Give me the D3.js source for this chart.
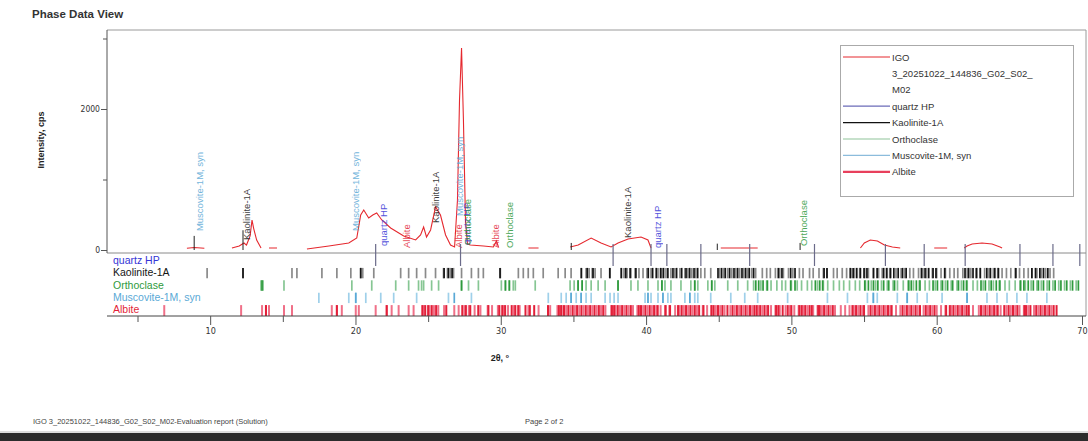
<!DOCTYPE html>
<html><head><meta charset="utf-8">
<script src="https://cdn.jsdelivr.net/npm/d3@7"></script>
<style>
body{margin:0;background:#fff;}
svg{display:block;font-family:"Liberation Sans",Arial,sans-serif;}
</style></head><body>
<svg id="chart" width="1088" height="441"></svg>
<script>
// Measured pattern: [2θ, intensity cps]; null breaks the trace into segments
const pattern = [
  [8.4,25],[8.9,35],[9.6,25],null,
  [11.5,28],[12.0,57],[12.33,99],[12.5,70],[12.75,200],[12.88,425],[13.0,300],[13.2,140],[13.5,28],null,
  [14.05,28],[14.6,28],null,
  [16.66,14],[18.17,57],[19.54,99],[20.09,170],[20.36,496],[20.57,567],[20.91,454],[21.19,496],[21.46,525],
  [21.81,426],[22.42,312],[23.32,199],[24.14,142],[24.48,213],[24.69,326],[24.89,184],[25.17,284],[25.51,610],
  [25.85,496],[26.2,213],[26.54,71],[26.82,43],[27.02,709],[27.16,2128],[27.3,2865],[27.43,1844],[27.57,426],
  [27.71,85],[27.91,71],[28.81,57],[29.49,43],[29.7,128],[29.84,43],null,
  [31.9,28],[32.6,28],null,
  [34.78,43],[35.33,71],[36.22,170],[36.9,99],[37.59,43],[38.07,99],[38.76,156],[39.65,184],[40.13,142],[40.34,28],null,
  [45.14,28],[47.68,28],null,
  [54.75,28],[55.02,99],[55.43,142],[55.92,128],[56.4,71],[56.95,43],[57.49,28],null,
  [59.83,28],[60.72,28],null,
  [61.89,28],[62.09,57],[62.44,85],[63.12,99],[63.81,85],[64.36,43],[64.5,28]
];

const phaseNames = ["quartz HP", "Kaolinite-1A", "Orthoclase", "Muscovite-1M, syn", "Albite"];
const phaseColors = ["#3535d6", "#151515", "#2e9a3c", "#5aa9d6", "#e31f38"];
const phaseWeakColors = ["#7777aa", "#8a8a8a", "#86c693", "#9fd0ea", "#f07088"];
const legendColors = ["#6b6bb8", "#111111", "#8fc49a", "#8cbcdc", "#e8405c"];
const patternName = ["IGO", "3_20251022_144836_G02_S02_", "M02"];
const patternColor = "#e5282e";

// Reference line positions (2θ) for each phase
const quartzLines = [21.39, 27.23, 37.73, 40.34, 41.43, 43.77, 47.13, 51.59, 56.47, 59.14, 61.96, 65.73, 68.0, 69.85];
const kaoliniteLines = [9.79, 12.26, 15.63, 15.97, 17.69, 18.72, 19.68, 20.36, 20.5, 21.26, 23.11, 23.66, 24.21, 24.82,
  25.51, 26.06, 26.33, 26.54, 26.75, 27.3, 27.98, 28.46, 28.8, 29.97, 31.21, 31.55, 31.89, 32.24, 32.92, 33.95, 34.43,
  34.84, 35.53, 35.87, 36.08, 36.29, 36.49, 36.9, 37.52, 38.28, 38.48, 38.69, 38.96, 39.24, 39.51, 39.79, 40.06, 40.34,
  40.82, 41.09, 41.37, 41.71, 41.98, 42.33, 42.67, 42.88, 43.15, 43.42, 43.77, 44.04, 44.45, 45.07, 45.35, 45.62, 45.9,
  46.17, 46.44, 46.72, 46.99, 47.27, 47.54, 48.0, 48.3, 48.55, 48.9, 49.2, 49.45, 49.8, 50.1, 50.55, 50.8, 51.25, 51.5,
  51.9, 52.2, 52.45, 52.9, 53.15, 53.5, 53.8, 54.1, 54.35, 54.7, 55.05, 55.3, 55.65, 56.0, 56.25, 56.6, 56.85, 57.2,
  57.55, 57.8, 58.15, 58.4, 58.75, 59.05, 59.3, 59.7, 60.0, 60.3, 60.6, 60.9, 61.2, 61.45, 61.8, 62.1, 62.35, 62.7,
  63.0, 63.3, 63.6, 63.9, 64.2, 64.5, 64.8, 65.1, 65.4, 65.7, 66.0, 66.3, 66.55, 66.9, 67.2, 67.5, 67.8, 68.05];
const kaoliniteStrong = [12.26, 20.36, 26.1, 26.4, 26.65, 29.95, 35.55, 35.95, 36.35, 37.5, 38.3, 38.6, 38.9, 39.3,
  40.15, 40.45, 40.7, 41.0, 41.2, 41.5, 41.85, 42.1, 42.45, 42.75, 43.0, 43.3, 43.55, 44.95, 45.2, 45.45, 45.75,
  46.05, 46.3, 46.6, 46.85, 47.1, 47.4, 49.1, 49.35, 49.95, 50.25, 52.25, 52.45, 54.05, 54.25, 54.5, 54.75, 55.0,
  55.2, 55.65, 55.9, 56.35, 56.55, 56.8, 57.05, 57.35, 57.65, 57.9, 58.95, 59.2, 59.45, 59.75, 59.95, 60.55, 61.95,
  62.2, 62.5, 62.75, 63.0, 63.45, 63.7, 64.0, 64.25, 65.45, 66.55, 66.8, 67.1, 67.35, 67.65];
const orthoclaseLines = [13.5, 13.64, 15.08, 19.75, 21.12, 22.77, 23.66, 24.34, 24.55, 24.69, 25.24, 25.72, 27.3, 27.78,
  28.46, 30.04, 30.32, 30.59, 30.86, 31.0, 32.37, 34.77, 35.05, 35.32, 35.6, 35.87, 36.22, 36.7, 37.18, 38.07, 38.96,
  39.44, 40.13, 40.82, 41.09, 41.3, 41.71, 42.4, 43.08, 43.35, 43.56, 44.25, 44.52, 44.73, 45.62, 46.31, 46.99, 47.4,
  47.9, 48.3, 48.6, 49.0, 49.35, 49.6, 50.0, 50.4, 50.7, 51.1, 51.4, 51.8, 52.2, 52.5, 52.9, 53.3, 53.6, 54.0, 54.4,
  54.7, 55.1, 55.5, 55.8, 56.2, 56.6, 57.0, 57.3, 57.7, 58.1, 58.4, 58.8, 59.2, 59.5, 59.9, 60.3, 60.6, 61.0, 61.4,
  61.7, 62.1, 62.5, 62.8, 63.2, 63.6, 63.9, 64.3, 64.7, 65.0, 65.4, 65.8, 66.1, 66.5, 66.9, 67.2, 67.6, 68.0, 68.4,
  68.8, 69.2, 69.6];
const orthoclaseStrong = [13.57, 27.3, 30.32, 30.59, 35.32, 35.6, 38.07, 41.09, 43.35, 44.52, 47.55, 47.75, 48.05,
  48.35, 49.95, 50.25, 51.65, 51.95, 52.15, 55.05, 55.3, 55.65, 55.95, 56.35, 56.7, 57.1, 58.05, 58.25, 58.6, 58.85,
  59.75, 60.05, 60.4, 60.75, 61.1, 61.5, 61.85, 62.05, 63.05, 63.35, 63.75, 64.1, 64.35, 65.75, 66.0, 66.3, 66.65,
  67.0, 67.35, 67.75, 68.15, 68.55, 68.95, 69.35, 69.75];
const muscoviteLines = [17.48, 19.54, 20.02, 20.71, 21.74, 22.63, 24.21, 26.4, 27.98, 33.27, 34.16, 34.5, 34.84, 35.19,
  35.53, 35.87, 36.22, 37.18, 37.52, 37.8, 38.07, 39.93, 40.13, 40.34, 40.82, 41.16, 41.5, 41.71, 42.67, 43.01, 43.35,
  43.56, 44.45, 45.83, 46.79, 47.68, 49.74, 52.48, 53.86, 55.23, 55.64, 55.91, 57.29, 57.97, 58.66, 59.34, 60.37,
  62.09, 63.46, 64.15, 64.84, 65.52, 66.21, 67.58];
const muscoviteStrong = [20.02, 26.8, 34.84, 35.53, 40.13, 41.16, 43.01, 55.64, 57.97, 62.09];
const albiteLines = [6.84, 12.13, 13.57, 13.84, 14.05, 15.08, 15.63, 18.37, 18.72, 19.06, 20.02, 20.23, 21.39, 22.15,
  22.49, 22.97, 23.66, 24.0, 24.69, 25.1, 25.4, 25.7, 26.1, 26.8, 27.1, 27.5, 27.8, 28.2, 28.6, 29.1, 29.4, 29.8, 30.2,
  30.5, 30.9, 31.3, 31.9, 32.6, 33.4, 33.9, 34.2, 34.5, 34.8, 35.1, 35.4, 35.7, 36.0, 36.3, 36.6, 36.9, 37.2, 37.6,
  37.9, 38.2, 38.5, 38.8, 39.1, 39.4, 39.8, 40.1, 40.4, 40.7, 41.0, 41.3, 41.6, 42.0, 42.3, 42.6, 42.9, 43.2, 43.5,
  43.9, 44.2, 44.5, 44.8, 45.1, 45.4, 45.8, 46.1, 46.4, 46.7, 47.0, 47.3, 47.7, 48.0, 48.3, 48.6, 48.9, 49.2, 49.6,
  49.9, 50.2, 50.5, 50.8, 51.1, 51.5, 51.8, 52.1, 52.4, 52.7, 53.0, 53.4, 53.7, 54.0, 54.3, 54.6, 54.9, 55.3, 55.6,
  55.9, 56.2, 56.5, 56.8, 57.2, 57.5, 57.8, 58.1, 58.4, 58.7, 59.1, 59.4, 59.7, 60.0, 60.3, 60.6, 61.0, 61.3, 61.6,
  61.9, 62.2, 62.5, 62.9, 63.2, 63.5, 63.8, 64.1, 64.4, 64.8, 65.1, 65.4, 65.7, 66.0, 66.3, 66.7, 67.0, 67.3, 67.6, 67.9];
const albiteStrong = [13.84, 18.72, 22.15, 24.6, 24.8, 25.0, 25.25, 25.55, 26.25, 27.35, 27.6, 27.9, 28.45, 29.15,
  29.9, 30.1, 30.3, 30.75, 31.0, 31.2, 31.7, 32.0, 32.3, 33.25, 34.0, 34.15, 34.35, 34.65, 34.95, 35.25, 35.55, 35.85,
  36.15, 36.45, 36.75, 37.05, 37.65, 37.8, 38.05, 38.35, 38.65, 38.95, 39.5, 39.65, 39.95, 40.25, 40.55, 40.8, 41.35,
  41.65, 42.2, 42.45, 42.75, 43.05, 43.35, 43.65, 43.95, 44.5, 44.65, 44.95, 45.25, 45.6, 45.95, 46.25, 46.55, 46.85,
  47.15, 47.45, 47.6, 47.85, 48.15, 48.4, 48.95, 49.1, 49.4, 49.75, 50.0, 50.55, 50.7, 50.95, 51.25, 51.4, 51.85,
  51.95, 52.25, 52.55, 52.85, 54.2, 54.45, 54.75, 55.0, 55.45, 55.75, 56.05, 56.35, 56.65, 56.9, 57.65, 57.95, 58.25,
  58.55, 58.85, 59.25, 59.55, 59.85, 60.65, 60.9, 61.15, 61.45, 61.75, 62.05, 62.2, 63.05, 63.35, 63.65, 63.95, 64.2,
  64.65, 64.95, 65.25, 65.55, 66.05, 66.15, 66.45, 66.85, 67.15, 67.45, 67.75, 68.05, 68.25];
const phaseLines = [[[], []], [kaoliniteLines, kaoliniteStrong], [orthoclaseLines, orthoclaseStrong],
  [muscoviteLines, muscoviteStrong], [albiteLines, albiteStrong]];

// Peak annotations: [phase index, 2θ, intensity where the label starts]
const peakLabels = [
  [3, 9.31, 240], [1, 12.54, 113], [3, 20.02, 241], [0, 21.94, 28], [4, 23.52, 0], [1, 25.51, 355],
  [4, 27.1, 0], [3, 27.2, 454], [0, 27.66, 43], [2, 27.74, 43], [4, 29.7, 0], [2, 30.66, 0],
  [1, 38.76, 142], [0, 40.82, 0], [2, 50.9, 28]
];
// Short marker sticks in the pattern pane: [phase index, 2θ, intensity]
const markerSticks = [[3, 8.9, 200], [1, 12.26, 280], [1, 34.85, 100], [1, 44.9, 90], [2, 50.6, 100]];

const xMajor = [10, 20, 30, 40, 50, 60, 70];
const xMinor = [5, 15, 25, 35, 45, 55, 65];
const yMajor = [0, 2000];
const yMinor = [1000, 3000];

(function draw() {
const svg = d3.select("#chart");
const plotL = 107, plotR = 1086, plotT = 30, plotB = 253, panelB = 316;

const x = d3.scaleLinear().domain([2.9, 70]).range([plotL, 1082]);
const y = d3.scaleLinear().domain([0, 2000]).range([250, 109]);
const rows = d3.scaleBand().domain(phaseNames).range([plotB + 1, panelB]);

// Title
svg.append("text").attr("x", 32).attr("y", 18).attr("font-size", 11.5).attr("font-weight", "bold")
  .attr("fill", "#333").text("Phase Data View");

// Frame
svg.append("path").attr("d", `M${plotL},${plotT}H${plotR}V${panelB}`).attr("fill", "none").attr("stroke", "#9a9a9a");
svg.append("line").attr("x1", plotL).attr("x2", plotR).attr("y1", plotB).attr("y2", plotB).attr("stroke", "#8a8a8a");

// Y axis
const yAxis = svg.append("g").attr("transform", `translate(${plotL},0)`)
  .call(d3.axisLeft(y).tickValues(yMajor).tickSize(6).tickSizeOuter(0).tickPadding(1).tickFormat(d3.format("d")));
svg.append("g").attr("transform", `translate(${plotL},0)`)
  .call(d3.axisLeft(y).tickValues(yMinor).tickSize(4).tickFormat("")).select(".domain").remove();
yAxis.select(".domain").attr("d", `M0,${plotT}V${plotB}`).attr("stroke", "#555");
yAxis.selectAll("text").attr("font-size", 8.5).attr("fill", "#333").attr("font-family", "DejaVu Sans Condensed, sans-serif");

svg.append("text").attr("transform", "translate(44,140) rotate(-90)").attr("text-anchor", "middle")
  .attr("font-size", 9).attr("font-weight", "bold").attr("fill", "#222").text("Intensity, cps");

// Pattern trace
const line = d3.line().defined(d => d !== null).x(d => x(d[0])).y(d => y(d[1]));
svg.append("path").datum(pattern).attr("d", line).attr("fill", "none")
  .attr("stroke", patternColor).attr("stroke-width", 1.1);

// Marker sticks
svg.append("g").selectAll("line").data(markerSticks).join("line")
  .attr("x1", d => x(d[1])).attr("x2", d => x(d[1])).attr("y1", y(0)).attr("y2", d => y(d[2]))
  .attr("stroke", "#222").attr("stroke-width", 1);

// Peak labels
svg.append("g").selectAll("text").data(peakLabels).join("text")
  .attr("transform", d => `translate(${x(d[1]) + 3},${y(d[2]) - 2}) rotate(-90)`)
  .attr("font-size", 9.5).attr("fill", d => phaseColors[d[0]]).attr("opacity", 0.85)
  .text(d => phaseNames[d[0]]);

// Stick rows: weaker reference lines first, stronger ones over them
phaseNames.forEach((name, i) => {
  const y0 = rows(name), h = rows.bandwidth();
  [0, 1].forEach(k => {
    svg.append("g").selectAll("line").data(phaseLines[i][k]).join("line")
      .attr("x1", d => x(d)).attr("x2", d => x(d))
      .attr("y1", y0 + 1.5).attr("y2", y0 + h - (i === 4 ? 0 : 0.5))
      .attr("stroke", k ? phaseColors[i] : phaseWeakColors[i])
      .attr("stroke-width", i === 4 ? 2 : 1.7);
  });
  svg.append("text").attr("x", 113).attr("y", y0 + h / 2 + 3.6).attr("font-size", 10.5)
    .attr("fill", phaseColors[i]).text(name);
});

// Quartz reference lines crossing into the stick panel
svg.append("g").selectAll("line").data(quartzLines).join("line")
  .attr("x1", d => x(d)).attr("x2", d => x(d)).attr("y1", plotB - 9).attr("y2", plotB + 13)
  .attr("stroke", "#6b6b8a").attr("stroke-width", 1.2);

// X axis
const xAxis = svg.append("g").attr("transform", `translate(0,${panelB})`)
  .call(d3.axisBottom(x).tickValues(xMajor).tickSize(9).tickSizeOuter(0).tickFormat(d3.format("d")));
svg.append("g").attr("transform", `translate(0,${panelB})`)
  .call(d3.axisBottom(x).tickValues(xMinor).tickSize(6).tickFormat("")).select(".domain").remove();
xAxis.select(".domain").attr("d", `M${plotL},0H${plotR}`).attr("stroke", "#444");
xAxis.selectAll("text").attr("font-size", 9).attr("fill", "#333").attr("font-family", "DejaVu Sans Condensed, sans-serif");
svg.selectAll(".tick line").attr("stroke", "#555");
svg.append("text").attr("x", 500).attr("y", 361).attr("text-anchor", "middle").attr("font-size", 9)
  .attr("font-weight", "bold").attr("fill", "#222").text("2θ, °");

// Legend
const lg = svg.append("g");
lg.append("rect").attr("x", 840.5).attr("y", 45.5).attr("width", 233).attr("height", 151)
  .attr("fill", "#fff").attr("stroke", "#aaa");
const legendRows = [
  {text: patternName[0], color: patternColor, w: 1},
  {text: patternName[1]}, {text: patternName[2]},
  ...phaseNames.map((n, i) => ({text: n, color: legendColors[i], w: i === 4 ? 2.2 : 1.2}))
];
legendRows.forEach((r, i) => {
  const ly = 57 + i * 16.4;
  if (r.color) lg.append("line").attr("x1", 843).attr("x2", 890).attr("y1", ly).attr("y2", ly)
    .attr("stroke", r.color).attr("stroke-width", r.w);
  lg.append("text").attr("x", 892).attr("y", ly + 3.5).attr("font-size", 9.5).attr("fill", "#333").text(r.text);
});

// Footer
svg.append("text").attr("x", 33).attr("y", 424).attr("font-size", 7.5).attr("fill", "#444")
  .text("IGO 3_20251022_144836_G02_S02_M02-Evaluation report (Solution)");
svg.append("text").attr("x", 525).attr("y", 424).attr("font-size", 7.5).attr("fill", "#444").text("Page 2 of 2");
svg.append("line").attr("x1", 0).attr("x2", 1088).attr("y1", 432).attr("y2", 432).attr("stroke", "#bbb");
svg.append("rect").attr("x", 0).attr("y", 433).attr("width", 1088).attr("height", 8).attr("fill", "#2c2c2c");
})();
</script>
</body></html>
